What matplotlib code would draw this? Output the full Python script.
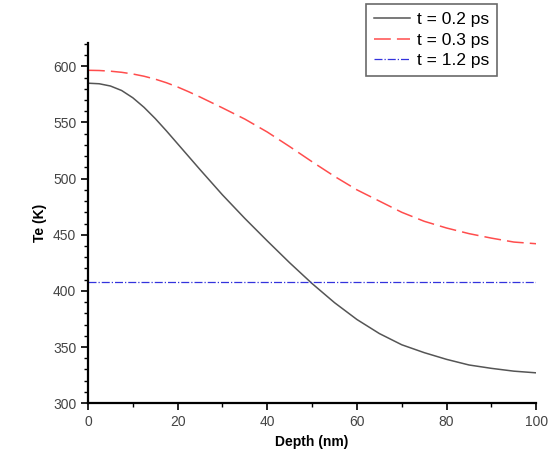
import matplotlib.pyplot as plt
from matplotlib.ticker import MultipleLocator

plt.rcParams["font.family"] = ["Liberation Sans", "DejaVu Sans"]

depth = [0, 2.5, 5, 7.5, 10, 12.5, 15, 17.5, 20, 22.5, 25, 30, 35, 40, 45, 50,
         55, 60, 65, 70, 75, 80, 85, 90, 95, 100]
te_02 = [585, 584.5, 582.5, 578.5, 572, 563.5, 553.5, 542.5, 531, 519.5, 508, 485.5, 464.5, 444.5, 425, 406.5,
         389.5, 374.5, 362, 352, 345, 339, 334, 331, 328.5, 327]
te_03 = [596.5, 596.3, 595.7, 594.7, 593.2, 591.2, 588.6, 585.4, 581.6, 577.3, 572.7, 563, 553, 541.5, 528.5, 515,
         502, 490, 480, 470, 462, 456, 451, 447, 443.5, 442]
te_12 = [408] * len(depth)

fig = plt.figure(figsize=(5.5, 4.65), dpi=100)
ax = fig.add_axes([0.16, 0.133, 0.815, 0.775])

ax.plot(depth, te_02, color="#555555", linewidth=1.1, label="t = 0.2 ps")
ax.plot(depth, te_03, color="#ff4d4d", linewidth=1.1, dashes=(11, 4), label="t = 0.3 ps")
ax.plot(depth, te_12, color="#3333dd", linewidth=0.9, linestyle="-.", label="t = 1.2 ps")

ax.set_xlim(0, 100)
ax.set_ylim(300, 621)
ax.xaxis.set_major_locator(MultipleLocator(20))
ax.xaxis.set_minor_locator(MultipleLocator(10))
ax.yaxis.set_major_locator(MultipleLocator(50))
ax.yaxis.set_minor_locator(MultipleLocator(10))

for side in ("top", "right"):
    ax.spines[side].set_visible(False)
for side in ("left", "bottom"):
    ax.spines[side].set_linewidth(1.6)

ax.tick_params(which="major", length=5, width=1.2, labelsize=10, labelcolor="#444444")
ax.tick_params(which="minor", length=3, width=1.0)

ax.set_xlabel("Depth (nm)", fontsize=10, fontweight="bold")
ax.set_ylabel("Te (K)", fontsize=10, fontweight="bold")

handles, labels = ax.get_legend_handles_labels()
leg = fig.legend(handles, labels, loc="upper left", bbox_to_anchor=(366 / 550, 1 - 4 / 465),
                 fontsize=12.5, frameon=True, fancybox=False, edgecolor="#444444",
                 handlelength=2.1, handletextpad=0.4, borderpad=0.45, labelspacing=0.32,
                 borderaxespad=0)
leg.get_frame().set_linewidth(1.2)

fig.savefig("out.png")
